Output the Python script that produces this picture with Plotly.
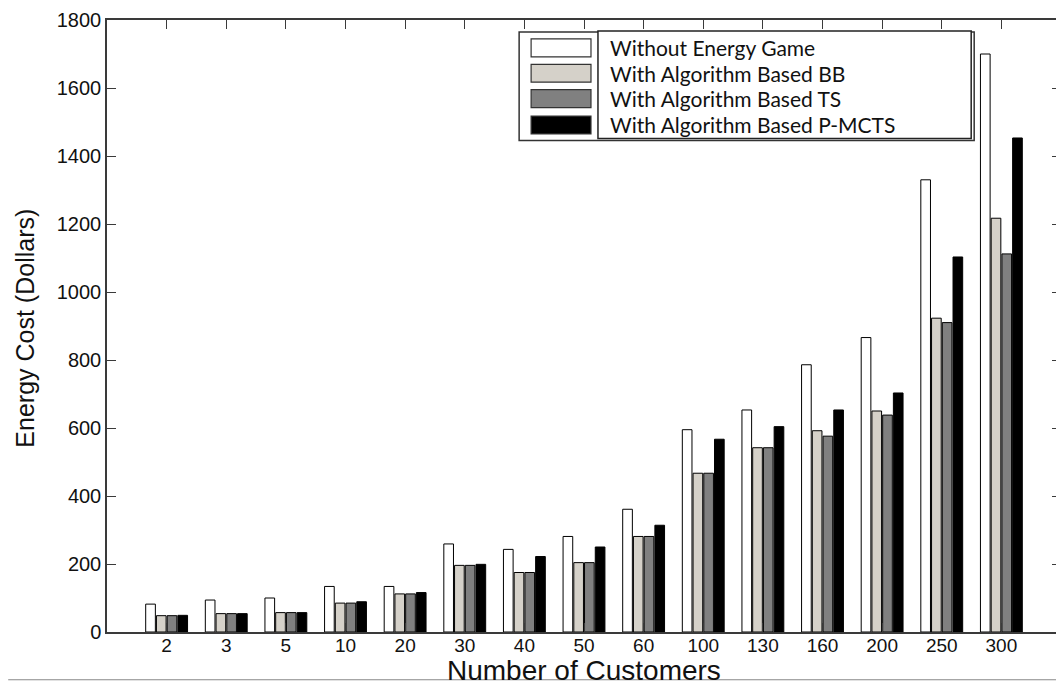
import plotly.graph_objects as go

categories = ["2", "3", "5", "10", "20", "30", "40", "50", "60", "100", "130", "160", "200", "250", "300"]
without_game = [82, 94, 100, 134, 134, 259, 243, 281, 361, 595, 653, 786, 866, 1330, 1700]
based_bb = [48, 54, 57, 85, 112, 196, 175, 204, 281, 467, 542, 592, 650, 923, 1217]
based_ts = [48, 54, 57, 85, 112, 196, 175, 204, 281, 467, 542, 576, 638, 910, 1112]
based_pmcts = [49, 54, 57, 89, 116, 199, 222, 250, 314, 567, 604, 653, 703, 1103, 1453]

series_names = ["Without Energy Game", "With Algorithm Based BB",
                "With Algorithm Based TS", "With Algorithm Based P-MCTS"]
series_values = [without_game, based_bb, based_ts, based_pmcts]
series_colors = ["#ffffff", "#d5d1c9", "#808080", "#000000"]

# page body has an 8px margin; figure is sized so that it fills the window
OFF = 8
W, H = 1064 - OFF, 685 - OFF
ML, MT = 107 - OFF, 17 - OFF
MR = 1
MB = H - (632 - OFF)
PW, PH = W - ML - MR, H - MT - MB


def px(x):
    """reference-window pixel x -> paper coordinate"""
    return (x - OFF - ML) / PW


def py(y):
    """reference-window pixel y -> paper coordinate"""
    return (H - MB - (y - OFF)) / PH


fig = go.Figure()
for name, vals, col in zip(series_names, series_values, series_colors):
    fig.add_trace(go.Bar(x=categories, y=vals, name=name,
                         marker=dict(color=col, line=dict(color="#000000", width=1)),
                         showlegend=False))

axis_common = dict(showline=True, linecolor="#3a3a3a", linewidth=1.5, mirror="ticks",
                   ticks="inside", ticklen=9, tickcolor="#3a3a3a", tickwidth=1,
                   showgrid=False, zeroline=False, ticklabeloverflow="allow",
                   tickfont=dict(family="Liberation Sans, Arial", size=20, color="#111111"))

fig.update_layout(
    width=W, height=H,
    margin=dict(l=ML, r=MR, t=MT, b=MB),
    paper_bgcolor="white", plot_bgcolor="white",
    barmode="group", bargap=0.28, bargroupgap=0.1,
    xaxis=dict(type="category", range=[-1, 15], ticklabelstandoff=-5, **axis_common),
    yaxis=dict(range=[0, 1800], dtick=200, **axis_common),
)
fig.update_xaxes(tickfont_size=19)

annotations = [
    dict(xref="paper", yref="paper", x=px(585), y=py(671), text="Number of Customers",
         showarrow=False, xanchor="center", yanchor="middle",
         font=dict(family="Liberation Sans, Arial", size=28, color="#111111")),
    dict(xref="paper", yref="paper", x=px(25), y=py(327), text="Energy Cost (Dollars)",
         showarrow=False, xanchor="center", yanchor="middle", textangle=-90,
         font=dict(family="Liberation Sans, Arial", size=25, color="#111111")),
]

# legend box (outer with inner frame), drawn manually
shapes = []
shapes.append(dict(type="rect", xref="paper", yref="paper",
                   x0=px(520), x1=px(976), y0=py(138), y1=py(29),
                   line=dict(color="#333333", width=1.5), fillcolor="white"))
shapes.append(dict(type="rect", xref="paper", yref="paper",
                   x0=px(599), x1=px(973), y0=py(136), y1=py(28),
                   line=dict(color="#222222", width=1.5), fillcolor="white"))
row_y = [45, 70.5, 96, 122.5]
for ry, name, col in zip(row_y, series_names, series_colors):
    shapes.append(dict(type="rect", xref="paper", yref="paper",
                       x0=px(532), x1=px(592), y0=py(ry + 9), y1=py(ry - 9),
                       line=dict(color="#333333", width=1.2), fillcolor=col))
    annotations.append(dict(xref="paper", yref="paper", x=px(609), y=py(ry),
                            text=name, showarrow=False, xanchor="left", yanchor="middle",
                            font=dict(family="Lato, Carlito, Calibri", size=21, color="#111111")))

# thin rule at the bottom of the image
shapes.append(dict(type="line", xref="paper", yref="paper",
                   x0=px(OFF), x1=px(1064), y0=py(680), y1=py(680),
                   line=dict(color="#888888", width=1.2)))

fig.update_layout(shapes=shapes, annotations=annotations)
fig.write_html("out.html")
